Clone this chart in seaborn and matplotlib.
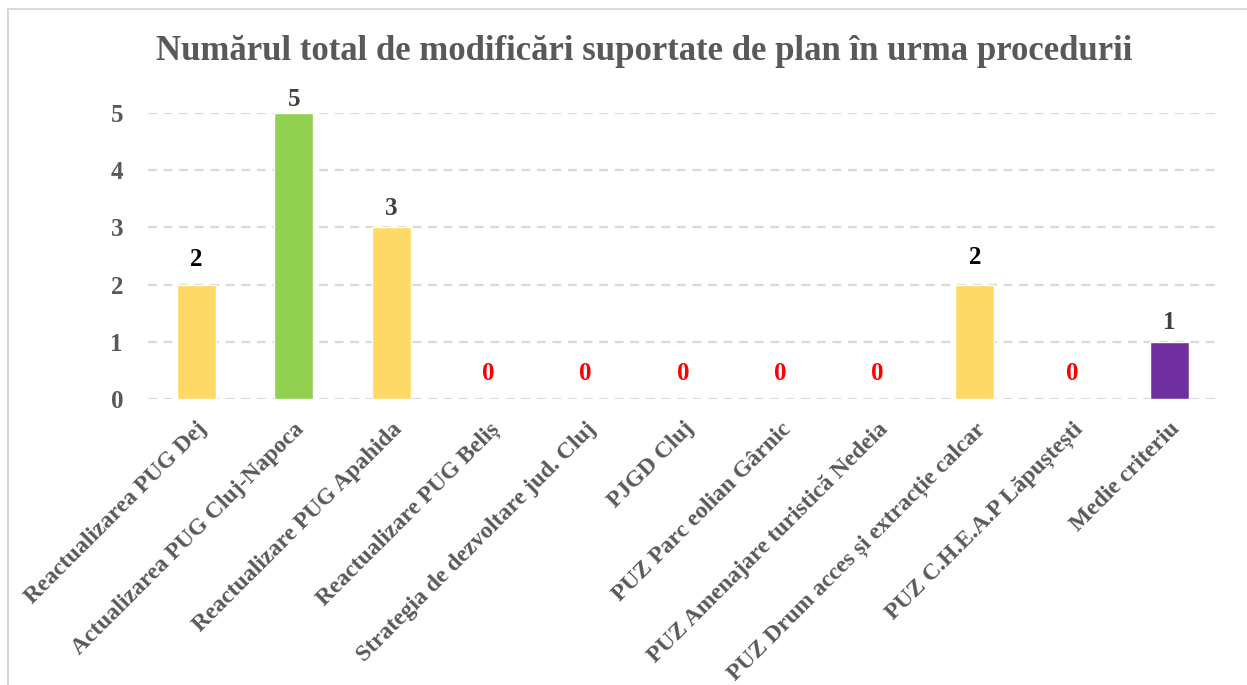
import numpy as np
import pandas as pd
import matplotlib
matplotlib.use("Agg")
import matplotlib.pyplot as plt
import seaborn as sns
from matplotlib.patches import Rectangle

# DATA
categories = ['Reactualizarea PUG Dej', 'Actualizarea PUG Cluj-Napoca', 'Reactualizare PUG Apahida',
              'Reactualizare PUG Beliș', 'Strategia de dezvoltare jud. Cluj', 'PJGD Cluj',
              'PUZ Parc eolian Gârnic', 'PUZ Amenajare turistică Nedeia',
              'PUZ Drum acces și extracție calcar', 'PUZ C.H.E.A.P Lăpuștești', 'Medie criteriu']
values = [2, 5, 3, 0, 0, 0, 0, 0, 2, 0, 1]
y_ticks = [0, 1, 2, 3, 4, 5]
title = 'Numărul total de modificări suportate de plan în urma procedurii'

# STYLE
bar_colors = ['#FFD966', '#92D050', '#FFD966', '#FFD966', '#FFD966', '#FFD966',
              '#FFD966', '#FFD966', '#FFD966', '#FFD966', '#7030A0']
label_colors = ['#000000', '#404040', '#404040', '#FF0000', '#FF0000', '#FF0000',
                '#FF0000', '#FF0000', '#000000', '#FF0000', '#404040']
# label centre offset above bar top, in pixels
label_offsets = [25, 13, 19, 25, 25, 25, 25, 25, 27, 25, 19]
grey = '#595959'

sns.set_theme(style='white')
plt.rcParams['font.family'] = ['Liberation Serif', 'DejaVu Serif']
plt.rcParams['font.weight'] = 'bold'

df = pd.DataFrame({'cat': categories, 'val': values})

fig = plt.figure(figsize=(12.47, 6.85), dpi=100)
ax = fig.add_axes([148 / 1247, 1 - 399 / 685, (1218 - 148) / 1247, (399 - 113) / 685])

# GRIDLINES
for t in y_ticks:
    ax.axhline(t, color='#D9D9D9', linestyle=(0, (4, 3)), linewidth=1.6, zorder=0)

sns.barplot(data=df, x='cat', y='val', hue='cat', palette=bar_colors, legend=False,
            width=0.4, saturation=1, ax=ax, zorder=2)

# BAR LABELS
for i, v in enumerate(values):
    ax.annotate(str(v), (i, v), xytext=(0, label_offsets[i] * 0.72), textcoords='offset points',
                ha='center', va='center', fontsize=18, fontweight='bold',
                color=label_colors[i], annotation_clip=False)

ax.set_ylim(0, 5)
ax.set_xlim(-0.5, len(categories) - 0.5)
ax.set_yticks(y_ticks)
ax.set_yticklabels([str(t) for t in y_ticks], fontsize=18, fontweight='bold', color=grey)
ax.set_xticks(range(len(categories)))
ax.set_xticklabels(categories, rotation=45, ha='right', rotation_mode='anchor',
                   fontsize=17, fontweight='bold', color=grey)
ax.tick_params(axis='x', length=0, pad=14)
ax.tick_params(axis='y', length=0, pad=18)
ax.set_xlabel('')
ax.set_ylabel('')
for s in ax.spines.values():
    s.set_visible(False)

fig.text(644 / 1247, 1 - 51 / 685, title, ha='center', va='center',
         fontsize=25, fontweight='bold', color=grey)

# OUTER FRAME
fig.patches.append(Rectangle((8 / 1247, -0.01), 1.02, 1 - 9 / 685 + 0.01,
                             transform=fig.transFigure, fill=False,
                             edgecolor='#D9D9D9', linewidth=1.5))

plt.savefig('out.png', dpi=100)
